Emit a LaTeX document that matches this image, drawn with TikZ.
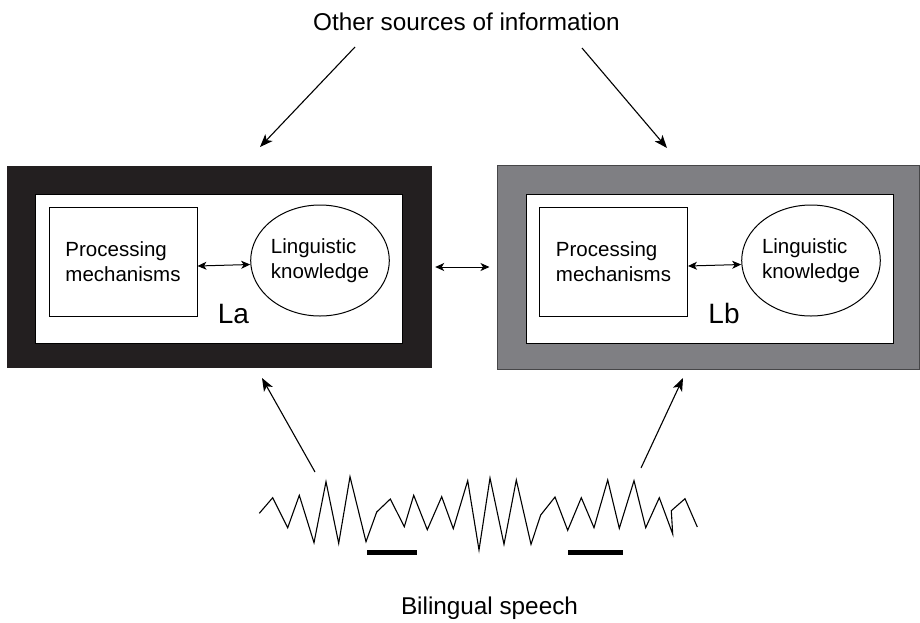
\documentclass[tikz,border=0pt]{standalone}
\usepackage{fontspec}
\setmainfont{Liberation Sans}
\usetikzlibrary{arrows.meta,shapes.geometric}
\begin{document}
\begin{tikzpicture}[x=1pt,y=-1pt,
  conn/.style={line width=1.1pt,-{Stealth[length=13pt,width=10pt,inset=3.5pt]}},
  inarrow/.style={line width=1pt,{Stealth[length=9pt,width=8pt,inset=2.5pt]}-{Stealth[length=9pt,width=8pt,inset=2.5pt]}},
  procbox/.style={draw,line width=1pt,minimum width=148pt,minimum height=109pt,align=left,inner sep=0pt,
    font=\fontsize{20.5}{25}\selectfont},
  knowbox/.style={draw,ellipse,line width=1pt,minimum width=136pt,minimum height=111pt,inner sep=0pt,
    font=\fontsize{20.5}{25}\selectfont},
  whitebox/.style={draw,line width=0.8pt,fill=white,minimum width=367pt,minimum height=149pt,inner sep=0pt},
  lab/.style={font=\fontsize{28}{30}\selectfont,inner sep=0pt,anchor=base},
  big/.style={font=\fontsize{24.3}{28}\selectfont,inner sep=0pt,anchor=base}]
\useasboundingbox (0,0) rectangle (920,622);
% title and caption
\node[big] (top) at (466.5,30) {Other sources of information};
\node[big] (bottom) at (489.5,614) {Bilingual speech};
% outer frames
\node[fill={rgb,255:red,35;green,31;blue,32},minimum width=425pt,minimum height=202pt,inner sep=0pt] (LA) at (219.5,267) {};
\node[draw={rgb,255:red,70;green,70;blue,72},line width=1pt,fill={rgb,255:red,127;green,127;blue,131},minimum width=422pt,minimum height=204pt,inner sep=0pt] (LB) at (708,267) {};
% inner white
\node[whitebox] (WA) at (218.5,268.5) {};
\node[whitebox] (WB) at (709.5,268.5) {};
% processing & knowledge
\node[procbox] (PA) at (123,262) {Processing\\mechanisms};
\node[knowbox] (KA) at (320,260.5) {\raisebox{-2pt}{\begin{tabular}{@{}l@{}}Linguistic\\knowledge\end{tabular}}};
\node[procbox] (PB) at (613.5,262) {Processing\\mechanisms};
\node[knowbox] (KB) at (811,260.5) {\raisebox{-2pt}{\begin{tabular}{@{}l@{}}Linguistic\\knowledge\end{tabular}}};
\node[lab] (la) at (233.5,323) {La};
\node[lab] (lb) at (724,323) {Lb};
% inner arrows
\draw[inarrow] ([yshift=-4pt]PA.east) -- ([yshift=-4pt]KA.west);
\draw[inarrow] ([yshift=-4pt]PB.east) -- ([yshift=-4pt]KB.west);
% middle arrow
\draw[inarrow,shorten <=3pt,shorten >=7pt] (LA.east) -- (LB.west);
% top arrows
\coordinate (t1) at (355,47);
\coordinate (t1e) at (260,147);
\coordinate (t2) at (582,48);
\coordinate (t2e) at (667,148);
\draw[conn] (t1) -- (t1e);
\draw[conn] (t2) -- (t2e);
% bottom arrows
\coordinate (b1) at (315,472);
\coordinate (b1e) at (262,378);
\coordinate (b2) at (641,468);
\coordinate (b2e) at (683,378);
\draw[conn] (b1) -- (b1e);
\draw[conn] (b2) -- (b2e);
% waveform
\draw[line width=1.1pt,line join=miter] (259.3,513.3) -- (272.7,497.7) -- (287.7,527.7) -- (299.3,495.3) -- (314,542.7) -- (326,481.7) -- (338.7,543.3) -- (350,476.7) -- (366,541.7) -- (376.7,512) -- (390.3,499) -- (404.3,526.7) -- (413.7,495.3) -- (427.3,529.7) -- (441.7,496.7) -- (453.3,528.7) -- (467.7,480.7) -- (479,550) -- (490,478) -- (504,544.3) -- (516.3,480) -- (531,544.3) -- (540.7,515) -- (555,497) -- (567.7,530.3) -- (581.3,497.7) -- (594,527.7) -- (607.7,480) -- (619.3,528.3) -- (634,480.7) -- (645.7,527.7) -- (659.3,497.7) -- (672.7,534) -- (671.3,510.7) -- (685,498.7) -- (697.3,527);
% bars
\fill (367.3,550.3) rectangle (416.7,554.5);
\fill (568.3,550.3) rectangle (622.7,554.5);
\end{tikzpicture}
\end{document}
